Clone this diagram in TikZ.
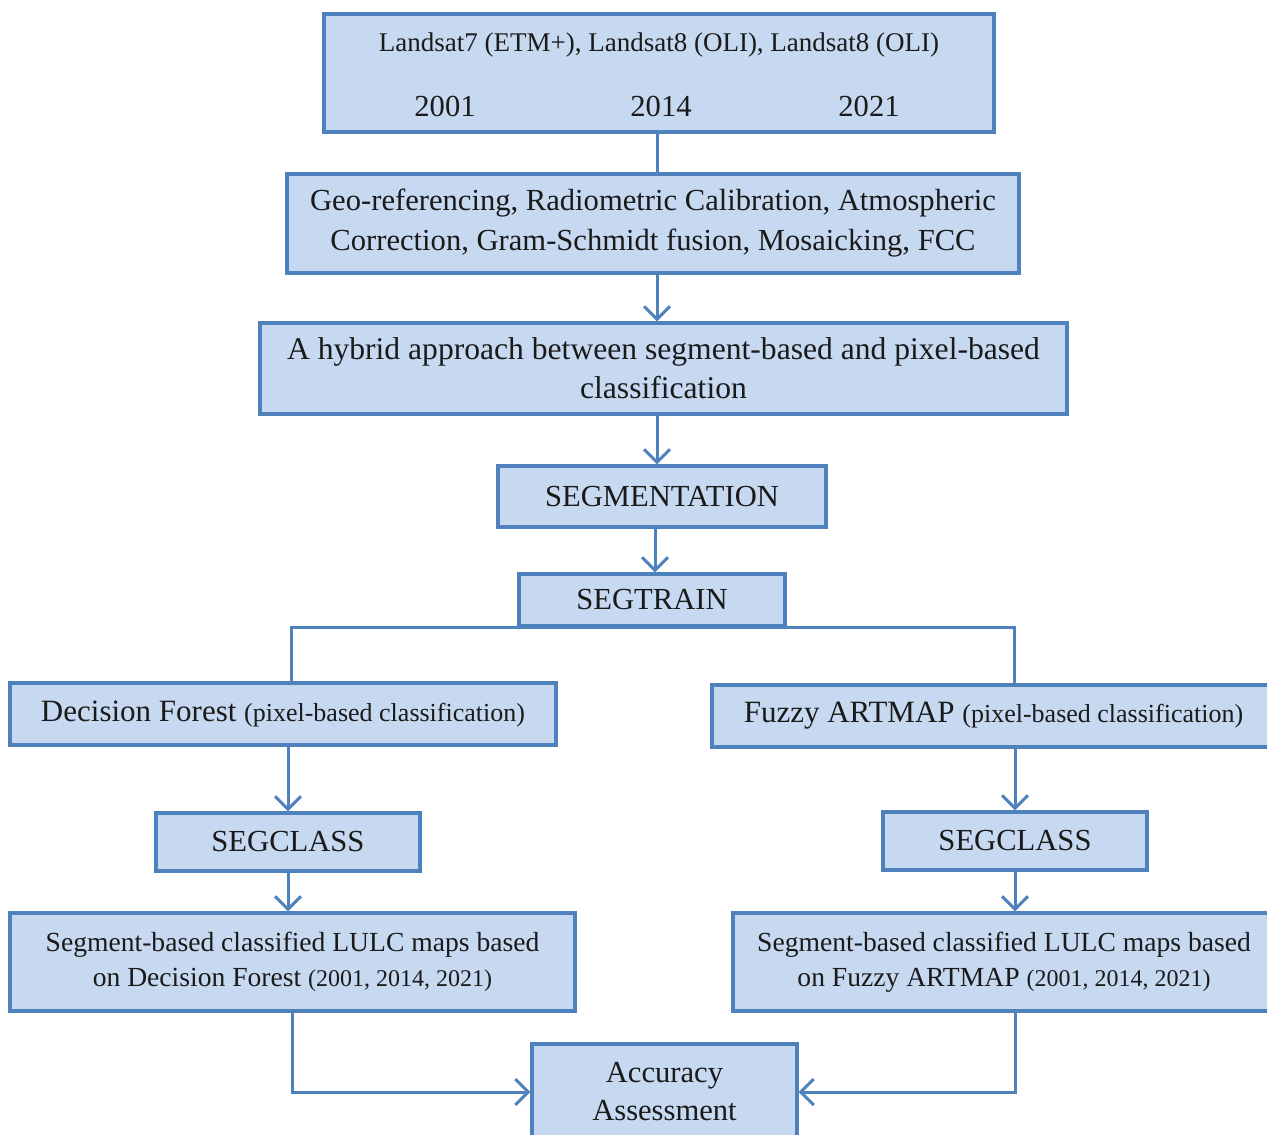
\documentclass[tikz,border=0pt]{standalone}
\usepackage{fontspec}
\setmainfont{Liberation Serif}
\usetikzlibrary{arrows.meta}
\definecolor{boxfill}{HTML}{C6D9F1}
\definecolor{boxline}{HTML}{4F81BD}
\definecolor{txt}{HTML}{1A1A1A}
\begin{document}
\begin{tikzpicture}[x=0.5pt,y=-0.5pt,
  box/.style={draw=boxline, fill=boxfill, line width=1.6pt, inner sep=0pt, align=center,
    text=txt, font=\fontsize{15.3}{20}\selectfont},
  lbl/.style={inner sep=0pt, text=txt},
  conn/.style={draw=boxline, line width=1.5pt},
  arr/.style={conn, -{Straight Barb[length=6.5pt,width=13pt]}}]
\useasboundingbox (0,0) rectangle (1267,1134);
\fill[white] (0,0) rectangle (1267,1134);

% boxes
\node[box, minimum width=335pt, minimum height=59pt] (top) at (659,73) {};
\node[lbl, font=\fontsize{13.5}{16}\selectfont] (sat) at (659,45) {Landsat7 (ETM+), Landsat8 (OLI), Landsat8 (OLI)};
\node[lbl, font=\fontsize{15.3}{20}\selectfont] (y1) at (445,106) {2001};
\node[lbl, font=\fontsize{15.3}{20}\selectfont] (y2) at (661,106) {2014};
\node[lbl, font=\fontsize{15.3}{20}\selectfont] (y3) at (869,106) {2021};

\node[box, minimum width=366pt, minimum height=49.5pt] (pre) at (653,223.5)
  {Geo-referencing, Radiometric Calibration, Atmospheric\\Correction, Gram-Schmidt fusion, Mosaicking, FCC};
\node[box, minimum width=403.5pt, minimum height=45.5pt, font=\fontsize{15.8}{19.5}\selectfont] (hyb) at (663.5,368.5)
  {A hybrid approach between segment-based and pixel-based\\classification};
\node[box, minimum width=164pt, minimum height=30.5pt] (segm) at (662,496.5) {SEGMENTATION};
\node[box, minimum width=133pt, minimum height=26pt] (segt) at (652,600) {SEGTRAIN};

\node[box, minimum width=273pt, minimum height=31pt, font=\fontsize{15.5}{20}\selectfont] (df) at (283,714)
  {Decision Forest {\fontsize{13}{15}\selectfont (pixel-based classification)}};
\node[box, minimum width=281.5pt, minimum height=31pt, font=\fontsize{15.5}{20}\selectfont] (fa) at (993.5,716)
  {Fuzzy ARTMAP {\fontsize{13}{15}\selectfont (pixel-based classification)}};

\node[box, minimum width=132pt, minimum height=29pt] (scl) at (288,842) {SEGCLASS};
\node[box, minimum width=132pt, minimum height=29pt] (scr) at (1015,841) {SEGCLASS};

\node[box, minimum width=282.5pt, minimum height=49pt, font=\fontsize{13.8}{17.5}\selectfont] (sbl) at (292.5,962)
  {Segment-based classified LULC maps based\\on Decision Forest {\fontsize{12}{15}\selectfont (2001, 2014, 2021)}};
\node[box, minimum width=271pt, minimum height=49pt, font=\fontsize{13.8}{17.5}\selectfont] (sbr) at (1004,962)
  {Segment-based classified LULC maps based\\on Fuzzy ARTMAP {\fontsize{12}{15}\selectfont (2001, 2014, 2021)}};

\node[box, minimum width=132.5pt, minimum height=48pt, font=\fontsize{15.3}{19}\selectfont] (acc) at (664.5,1092)
  {Accuracy\\Assessment};

% helper coordinates
\coordinate (cx) at (657,0);
\coordinate (cy) at (655,0);
\coordinate (lx) at (291,0);
\coordinate (rx) at (1014,0);

% connectors
\draw[conn] (top.south -| cx) -- (pre.north -| cx);
\draw[arr] (pre.south -| cx) -- (hyb.north -| cx);
\draw[arr] (hyb.south -| cx) -- (segm.north -| cx);
\draw[arr] (segm.south -| cy) -- (segt.north -| cy);
\draw[conn] (df.north -| lx) -- (lx |- segt.south) -- (rx |- segt.south) -- (fa.north -| rx);
\draw[arr] (df.south -| scl.north) -- (scl.north);
\draw[arr] (fa.south -| scr.north) -- (scr.north);
\draw[arr] (scl.south) -- (scl.south |- sbl.north);
\draw[arr] (scr.south) -- (scr.south |- sbr.north);
\draw[arr] (sbl.south) |- (acc.west);
\draw[arr] (sbr.south -| scr.south) |- (acc.east);
\end{tikzpicture}
\end{document}
